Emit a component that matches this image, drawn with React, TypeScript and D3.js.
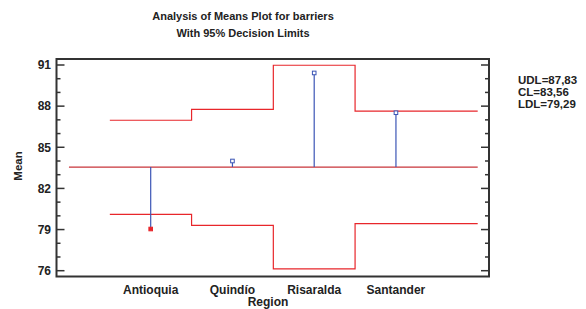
import React from "react";
import * as d3 from "d3";

const categories = ["Antioquia", "Quindío", "Risaralda", "Santander"];
const means = [79.04, 84.0, 90.42, 87.52];
const udl = [86.97, 87.77, 90.98, 87.64];
const ldl = [80.11, 79.31, 76.14, 79.43];
const centerLine = 83.56;
const yTicks = [76, 79, 82, 85, 88, 91];
const legendLines = ["UDL=87,83", "CL=83,56", "LDL=79,29"];
const titleLines = ["Analysis of Means Plot for barriers", "With 95% Decision Limits"];

const W = 586, H = 309;
const left = 56.5, right = 489, top = 59, bottom = 276.5;
const RED = "#e8262b";
const BLUE = "#3b55b5";
const FRAME = "#333333";
const FONT = "Liberation Sans, Arial, sans-serif";

export default function App() {
  const x = d3.scaleLinear().domain([1, 5]).range([150.7, 477.7]);
  const y = d3.scaleLinear().domain([76, 91]).range([270.7, 65]);
  const minorTicks = d3.range(76, 92, 1);

  const bandStart = (i: number) => i + 0.5;
  const bandEnd = (i: number) => (i === categories.length - 1 ? i + 2 : i + 1.5);

  const stepPath = (vals: number[]) => {
    let p = "";
    vals.forEach((v, i) => {
      const x0 = x(bandStart(i));
      const x1 = x(bandEnd(i));
      p += (i === 0 ? `M${x0},${y(v)}` : `L${x0},${y(v)}`) + `L${x1},${y(v)}`;
    });
    return p;
  };

  return (
    <svg width={W} height={H} style={{ position: "absolute", left: 0, top: 0, background: "#fff" }}>
      <rect width={W} height={H} fill="#fff" />
      {titleLines.map((t, i) => (
        <text key={t} x={243} y={20 + i * 17} textAnchor="middle" fontFamily={FONT} fontWeight="bold" fontSize={11} fill="#222">{t}</text>
      ))}
      {/* frame */}
      <rect x={left} y={top} width={right - left} height={bottom - top} fill="none" stroke={FRAME} strokeWidth={2} />
      {/* ticks */}
      {minorTicks.map((v) => {
        const major = yTicks.includes(v);
        const len = major ? 8 : 4;
        return (
          <g key={v}>
            <line x1={left} x2={left + len} y1={y(v)} y2={y(v)} stroke={FRAME} strokeWidth={1.5} />
            <line x1={right} x2={right - len} y1={y(v)} y2={y(v)} stroke={FRAME} strokeWidth={1.5} />
          </g>
        );
      })}
      {yTicks.map((v) => (
        <text key={v} x={51} y={y(v) + 4.3} textAnchor="end" fontFamily={FONT} fontWeight="bold" fontSize={12} fill="#222">{v}</text>
      ))}
      {categories.map((c, i) => (
        <text key={c} x={x(i + 1)} y={293.5} textAnchor="middle" fontFamily={FONT} fontWeight="bold" fontSize={12} fill="#222">{c}</text>
      ))}
      <text x={268} y={305.5} textAnchor="middle" fontFamily={FONT} fontWeight="bold" fontSize={12} fill="#222">Region</text>
      <text transform={`translate(22,166) rotate(-90)`} textAnchor="middle" fontFamily={FONT} fontWeight="bold" fontSize={11.5} fill="#222">Mean</text>
      {/* decision limits */}
      <path d={stepPath(udl)} fill="none" stroke={RED} strokeWidth={1.2} />
      <path d={stepPath(ldl)} fill="none" stroke={RED} strokeWidth={1.2} />
      <line x1={x(0)} x2={x(5)} y1={y(centerLine)} y2={y(centerLine)} stroke="#c8343a" strokeWidth={1.2} />
      {/* means */}
      {means.map((m, i) => {
        const out = m > udl[i] || m < ldl[i];
        const col = out ? RED : BLUE;
        return (
          <g key={i}>
            <line x1={x(i + 1)} x2={x(i + 1)} y1={y(centerLine)} y2={y(m)} stroke={BLUE} strokeWidth={1.2} />
            <rect x={x(i + 1) - 1.8} y={y(m) - 1.8} width={3.6} height={3.6} fill={out ? RED : "#fff"} stroke={col} strokeWidth={1} />
          </g>
        );
      })}
      {legendLines.map((t, i) => (
        <text key={t} x={518} y={84 + i * 12} fontFamily={FONT} fontWeight="bold" fontSize={11.5} fill="#222">{t}</text>
      ))}
    </svg>
  );
}
